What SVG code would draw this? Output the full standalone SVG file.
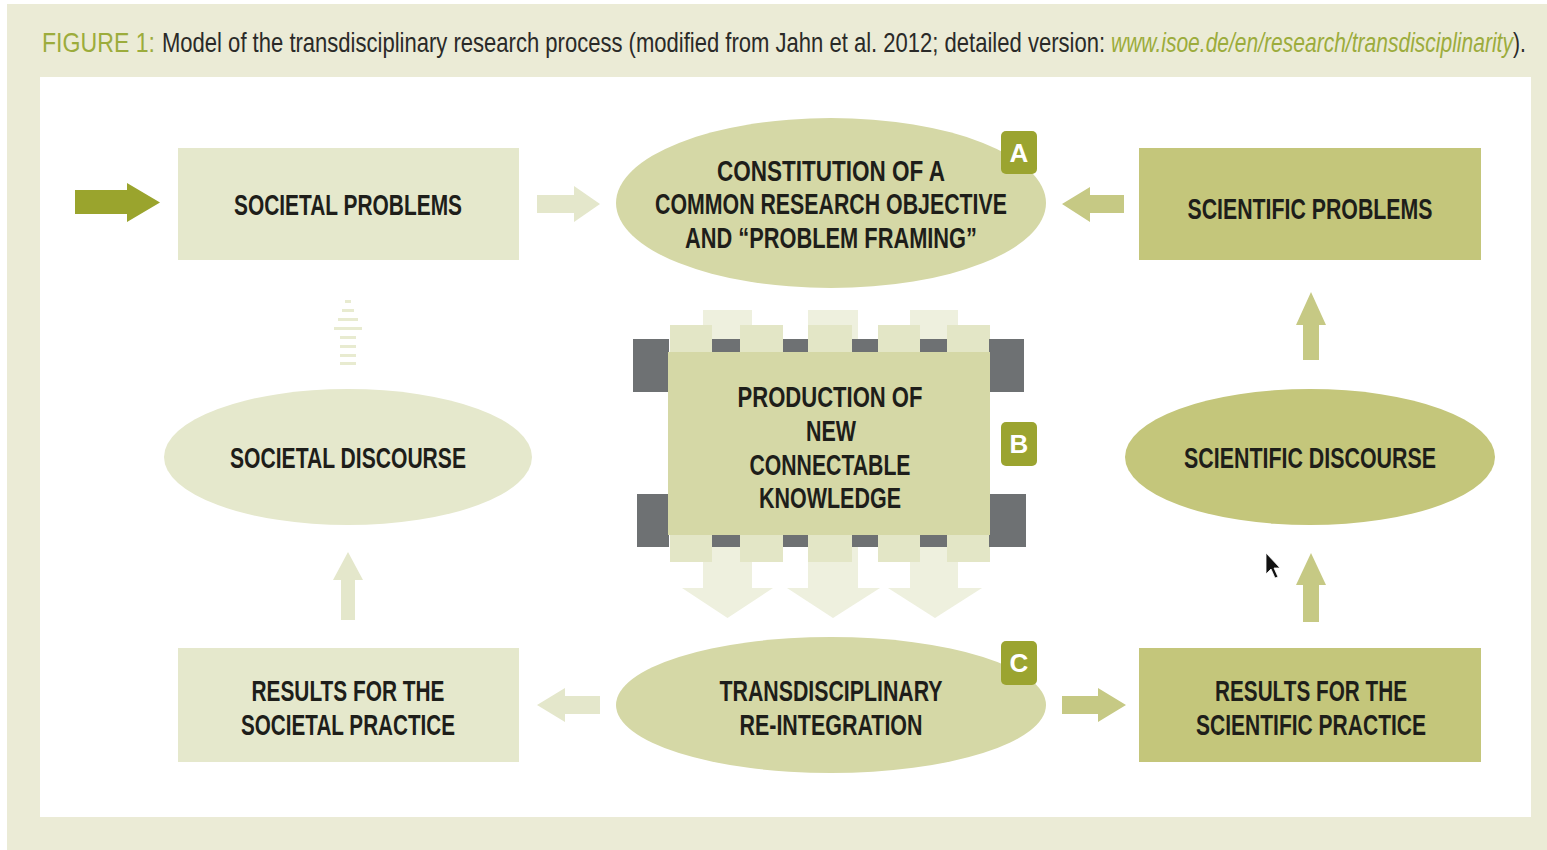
<svg xmlns="http://www.w3.org/2000/svg" width="1547" height="850" viewBox="0 0 1547 850">
<defs>
<style>
.t{font-family:"Liberation Sans",Arial,sans-serif;font-weight:700;font-size:29px;fill:#1e1e1a;text-anchor:middle}
.ttl{font-family:"Liberation Sans",Arial,sans-serif;font-size:27px;fill:#2a2a28}
.grn{fill:#9cac3c}
.dk{fill:#2a2a28;font-style:normal}
.badge{fill:#9ba430}
.bl{font-family:"Liberation Sans",Arial,sans-serif;font-weight:700;font-size:26px;fill:#ffffff;text-anchor:middle}
.light{fill:#e5e8cc}
.mid{fill:#d5d8a6}
.dark{fill:#c4c67b}
.arl{fill:#e4e7cb}
.ard{fill:#c6c984}
.gray{fill:#6e7173}
</style>
</defs>
<rect x="0" y="0" width="1547" height="850" fill="#ffffff"/>
<rect x="7" y="4" width="1540" height="846" fill="#ebebd6"/>
<rect x="40" y="77" width="1491" height="740" fill="#ffffff"/>

<g id="title">
<g transform="scale(0.856,1)"><text class="ttl grn" x="49.07" y="52" textLength="132" lengthAdjust="spacingAndGlyphs">FIGURE 1:</text></g>
<g transform="scale(0.8165,1)"><text class="ttl" x="198.4" y="52" textLength="1155" lengthAdjust="spacingAndGlyphs">Model of the transdisciplinary research process (modified from Jahn et al. 2012; detailed version:</text></g>
<g transform="scale(0.8,1)"><text class="ttl grn" x="1388.75" y="52" textLength="518.5" lengthAdjust="spacingAndGlyphs" font-style="italic">www.isoe.de/en/research/transdisciplinarity<tspan class="dk">).</tspan></text></g>
</g>

<g id="connectors">
<path d="M75 190 H127 V183 L160 202.5 L127 222 V214 H75 Z" fill="#9aa42d"/>
<path class="arl" d="M537 195 H574 V186 L600 204 L574 222 V213 H537 Z"/>
<path class="ard" d="M1124 195 H1090 V187 L1062 204 L1090 222 V213 H1124 Z"/>
<path class="arl" d="M600 696 H565 V688 L537 705 L565 722 V714 H600 Z"/>
<path class="ard" d="M1062 696 H1098 V688 L1126 705 L1098 722 V714 H1062 Z"/>
<path class="arl" d="M341 620 V580 H333 L348 552 L363 580 H355 V620 Z"/>
<path class="ard" d="M1303 622 V585 H1296 L1311 553 L1326 585 H1319 V622 Z"/>
<path class="ard" d="M1303 360 V325 H1296 L1311 292 L1326 325 H1319 V360 Z"/>
<g fill="#e8ebd0">
<rect x="345" y="300" width="6" height="3"/>
<rect x="342" y="309" width="12" height="3"/>
<rect x="338" y="318" width="20" height="3"/>
<rect x="334" y="327" width="28" height="3"/>
<rect x="340" y="336" width="16" height="3"/>
<rect x="340" y="345" width="16" height="3"/>
<rect x="340" y="354" width="16" height="3"/>
<rect x="340" y="362" width="16" height="3"/>
</g>
<g fill="#eef0de">
<path d="M703 310 H752 V588 H773 L727.5 618 L682 588 H703 Z"/>
<path d="M808 310 H858 V588 H880 L833 618 L787 588 H808 Z"/>
<path d="M910 310 H958 V588 H982 L935 618 L888 588 H910 Z"/>
</g>
<g fill="#e3e6c6">
<rect x="670" y="325" width="42" height="237"/>
<rect x="740" y="325" width="43" height="237"/>
<rect x="808" y="325" width="44" height="237"/>
<rect x="878" y="325" width="42" height="237"/>
<rect x="947" y="325" width="43" height="237"/>
</g>
</g>

<g id="societal-problems">
<rect class="light" x="178" y="148" width="341" height="112"/>
<text class="t" x="348" y="215" textLength="228" lengthAdjust="spacingAndGlyphs">SOCIETAL PROBLEMS</text>
</g>

<g id="problem-framing">
<ellipse class="mid" cx="831" cy="203" rx="215" ry="85"/>
<text class="t" x="831" y="181" textLength="228" lengthAdjust="spacingAndGlyphs">CONSTITUTION OF A</text>
<text class="t" x="831" y="214" textLength="352" lengthAdjust="spacingAndGlyphs">COMMON RESEARCH OBJECTIVE</text>
<text class="t" x="831" y="248" textLength="292" lengthAdjust="spacingAndGlyphs">AND “PROBLEM FRAMING”</text>
<rect class="badge" x="1001" y="131" width="36" height="43" rx="5"/>
<text class="bl" x="1019" y="162">A</text>
</g>

<g id="scientific-problems">
<rect class="dark" x="1139" y="148" width="342" height="112"/>
<text class="t" x="1310" y="219" textLength="245" lengthAdjust="spacingAndGlyphs">SCIENTIFIC PROBLEMS</text>
</g>

<g id="knowledge-production">
<rect class="gray" x="633" y="339" width="36" height="53"/>
<rect class="gray" x="989" y="339" width="35" height="53"/>
<rect class="gray" x="637" y="494" width="32" height="53"/>
<rect class="gray" x="989" y="494" width="37" height="53"/>
<rect class="gray" x="712" y="339" width="28" height="14"/>
<rect class="gray" x="783" y="339" width="25" height="14"/>
<rect class="gray" x="852" y="339" width="26" height="14"/>
<rect class="gray" x="920" y="339" width="27" height="14"/>
<rect class="gray" x="712" y="534" width="28" height="13"/>
<rect class="gray" x="783" y="534" width="25" height="13"/>
<rect class="gray" x="852" y="534" width="26" height="13"/>
<rect class="gray" x="920" y="534" width="27" height="13"/>
<rect class="mid" x="668" y="352" width="322" height="183"/>
<text class="t" x="830" y="407" textLength="185" lengthAdjust="spacingAndGlyphs">PRODUCTION OF</text>
<text class="t" x="831" y="441" textLength="50" lengthAdjust="spacingAndGlyphs">NEW</text>
<text class="t" x="830" y="475" textLength="161" lengthAdjust="spacingAndGlyphs">CONNECTABLE</text>
<text class="t" x="830" y="508" textLength="142" lengthAdjust="spacingAndGlyphs">KNOWLEDGE</text>
<rect class="badge" x="1001" y="422" width="36" height="44" rx="5"/>
<text class="bl" x="1019" y="453">B</text>
</g>

<g id="societal-discourse">
<ellipse class="light" cx="348" cy="457" rx="184" ry="68"/>
<text class="t" x="348" y="468" textLength="236" lengthAdjust="spacingAndGlyphs">SOCIETAL DISCOURSE</text>
</g>

<g id="scientific-discourse">
<ellipse class="dark" cx="1310" cy="457" rx="185" ry="68"/>
<text class="t" x="1310" y="468" textLength="252" lengthAdjust="spacingAndGlyphs">SCIENTIFIC DISCOURSE</text>
</g>

<g id="results-societal">
<rect class="light" x="178" y="648" width="341" height="114"/>
<text class="t" x="348" y="701" textLength="193" lengthAdjust="spacingAndGlyphs">RESULTS FOR THE</text>
<text class="t" x="348" y="735" textLength="214" lengthAdjust="spacingAndGlyphs">SOCIETAL PRACTICE</text>
</g>

<g id="reintegration">
<ellipse class="mid" cx="831" cy="705" rx="215" ry="68"/>
<text class="t" x="831" y="701" textLength="223" lengthAdjust="spacingAndGlyphs">TRANSDISCIPLINARY</text>
<text class="t" x="831" y="735" textLength="183" lengthAdjust="spacingAndGlyphs">RE-INTEGRATION</text>
<rect class="badge" x="1001" y="641" width="36" height="44" rx="5"/>
<text class="bl" x="1019" y="672">C</text>
</g>

<g id="results-scientific">
<rect class="dark" x="1139" y="648" width="342" height="114"/>
<text class="t" x="1311" y="701" textLength="192" lengthAdjust="spacingAndGlyphs">RESULTS FOR THE</text>
<text class="t" x="1311" y="735" textLength="230" lengthAdjust="spacingAndGlyphs">SCIENTIFIC PRACTICE</text>
</g>

<path d="M1266 553 L1266 574 L1271 569 L1275 578 L1278 577 L1274 568 L1280 568 Z" fill="#111111" stroke="#ffffff" stroke-width="0.8"/>
</svg>
